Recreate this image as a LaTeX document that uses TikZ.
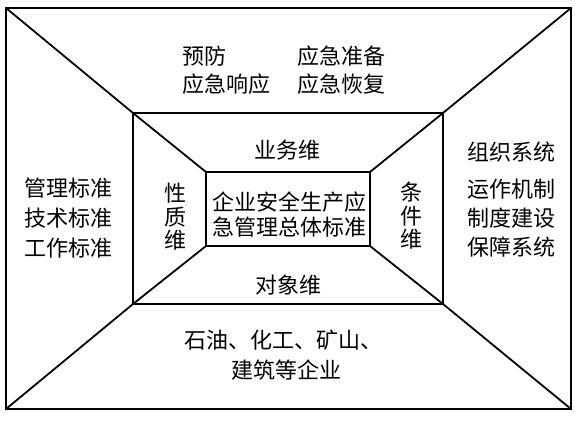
\documentclass[tikz,border=0pt]{standalone}
\usepackage{fontspec}
\setmainfont{Noto Sans CJK SC}
\begin{document}
\begin{tikzpicture}[x=1pt,y=-1pt,
  frame/.style={draw,line width=1.8pt,inner sep=0pt,outer sep=0pt,anchor=north west},
  edge/.style={line width=1.8pt},
  lbl/.style={inner sep=0pt,font=\fontsize{22}{24}\selectfont},
  vlbl/.style={inner sep=0pt,font=\fontsize{22}{23.5}\selectfont,align=center}]
\useasboundingbox (0,0) rectangle (577,423);
\node[frame,minimum width=565pt,minimum height=401pt] (outer) at (6,8) {};
\node[frame,minimum width=310pt,minimum height=191pt] (mid) at (133,113) {};
\node[frame,minimum width=164pt,minimum height=74pt] (inner) at (206,172) {};
\draw[edge] (outer.north west) -- (mid.north west) -- (inner.north west);
\draw[edge] (outer.north east) -- (mid.north east) -- (inner.north east);
\draw[edge] (outer.south west) -- (mid.south west) -- (inner.south west);
\draw[edge] (outer.south east) -- (mid.south east) -- (inner.south east);
% top
\node[lbl,anchor=west] (t1) at (182,56) {预防};
\node[lbl,anchor=west] (t2) at (297,56) {应急准备};
\node[lbl,anchor=west] (t3) at (182,84) {应急响应};
\node[lbl,anchor=west] (t4) at (297,84) {应急恢复};
% left
\node[lbl,anchor=west] (l1) at (24,188) {管理标准};
\node[lbl,anchor=west] (l2) at (24,218) {技术标准};
\node[lbl,anchor=west] (l3) at (24,248) {工作标准};
% right
\node[lbl,anchor=west] (r1) at (467,152) {组织系统};
\node[lbl,anchor=west] (r2) at (467,189) {运作机制};
\node[lbl,anchor=west] (r3) at (467,218) {制度建设};
\node[lbl,anchor=west] (r4) at (467,247) {保障系统};
% bottom
\node[lbl,anchor=west] (b1) at (184,340) {石油、化工、矿山、};
\node[lbl] (b2) at (286,370) {建筑等企业};
% middle ring
\node[lbl] (yw) at (287,150) {业务维};
\node[lbl] (dx) at (288,285) {对象维};
\node[vlbl] (xz) at (175,217) {性\\质\\维};
\node[vlbl] (tj) at (411,216) {条\\件\\维};
% center
\node[lbl,align=center,font=\fontsize{22}{25}\selectfont] (c) at (289,215) {企业安全生产应\\急管理总体标准};
\end{tikzpicture}
\end{document}
